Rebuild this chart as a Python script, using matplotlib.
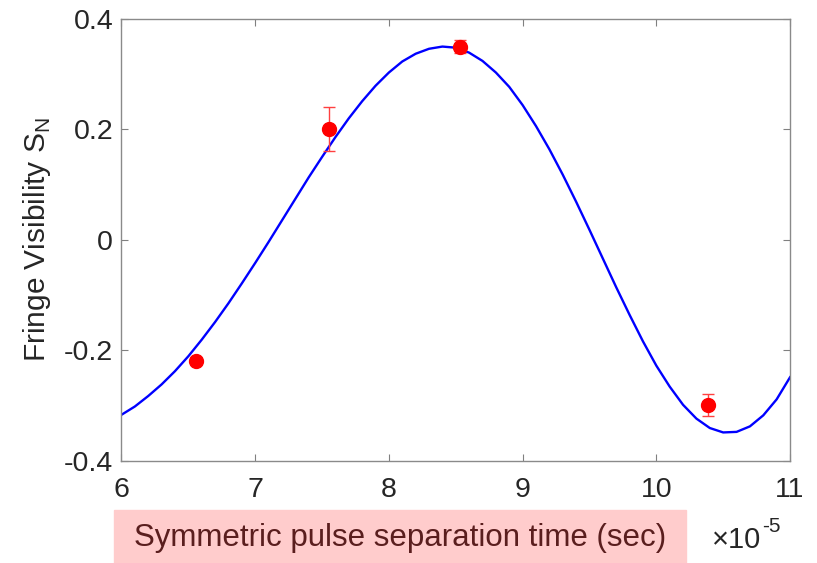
import matplotlib
matplotlib.use("Agg")
from matplotlib import pyplot as plt
from matplotlib.patches import Rectangle

# measured points (x in units of 1e-5 s)
t_meas = [6.56, 7.55, 8.53, 10.39]
v_meas = [-0.22, 0.20, 0.35, -0.30]
v_err = [0.005, 0.04, 0.012, 0.02]

# fit curve, every 0.1
t_fit = [6.0, 6.1, 6.2, 6.3, 6.4, 6.5, 6.6, 6.7, 6.8, 6.9,
         7.0, 7.1, 7.2, 7.3, 7.4, 7.5, 7.6, 7.7, 7.8, 7.9,
         8.0, 8.1, 8.2, 8.3, 8.4, 8.5, 8.6, 8.7, 8.8, 8.9,
         9.0, 9.1, 9.2, 9.3, 9.4, 9.5, 9.6, 9.7, 9.8, 9.9,
         10.0, 10.1, 10.2, 10.3, 10.4, 10.5, 10.6, 10.7, 10.8, 10.9, 11.0]
v_fit = [-0.317, -0.302, -0.283, -0.262, -0.238, -0.211, -0.181, -0.149, -0.115, -0.079,
         -0.042, -0.004, 0.035, 0.074, 0.113, 0.150, 0.186, 0.220, 0.251, 0.279,
         0.303, 0.323, 0.337, 0.346, 0.350, 0.348, 0.339, 0.324, 0.303, 0.277,
         0.244, 0.206, 0.164, 0.118, 0.069, 0.018, -0.034, -0.086, -0.136, -0.184,
         -0.228, -0.266, -0.299, -0.324, -0.341, -0.349, -0.348, -0.338, -0.318, -0.289, -0.249]

xticks = [6, 7, 8, 9, 10, 11]
yticks = [-0.4, -0.2, 0, 0.2, 0.4]
ytick_labels = ['-0.4', '-0.2', '0', '0.2', '0.4']

plt.rcParams['font.family'] = ['Liberation Sans', 'DejaVu Sans']

fig = plt.figure(figsize=(8.17, 5.63), dpi=100)
ax = fig.add_axes([0.1487, 0.1819, 0.8183, 0.7844])

ax.plot(t_fit, v_fit, color='#0000ff', lw=1.7)
ax.errorbar(t_meas, v_meas, yerr=v_err, fmt='o', color='red', ecolor='#ff4040',
            elinewidth=1, capsize=4, capthick=1, markersize=10, zorder=3)

ax.set_xlim(6, 11)
ax.set_ylim(-0.4, 0.4)
ax.set_xticks(xticks)
ax.set_xticklabels([str(v) for v in xticks])
ax.set_yticks(yticks)
ax.set_yticklabels(ytick_labels)
ax.tick_params(direction='in', top=True, right=True, length=5, width=0.8,
               colors='#808080', labelcolor='#262626', labelsize=20.5)
ax.tick_params(axis='x', pad=12)
ax.tick_params(axis='y', pad=6)
for s in ax.spines.values():
    s.set_color('#8a8a8a')
    s.set_linewidth(1)

ax.set_ylabel('Fringe Visibility S$_\\mathregular{N}$', fontsize=21.5, color='#262626', labelpad=8)

# pink box behind the x label
fig.patches.append(Rectangle((114 / 817, 0), (686 - 114) / 817, 53 / 563,
                             transform=fig.transFigure, color='#ffcccc', zorder=0))
fig.text(400 / 817, 1 - 538 / 563, 'Symmetric pulse separation time (sec)',
         fontsize=22.5, color='#5a1e1e', ha='center', va='center')
fig.text(712 / 817, 1 - 540 / 563, '\u00d710', fontsize=21, color='#262626',
         ha='left', va='center')
fig.text(762 / 817, 1 - 526 / 563, '-5', fontsize=15, color='#262626',
         ha='left', va='center')

plt.savefig('out.png', dpi=100)
